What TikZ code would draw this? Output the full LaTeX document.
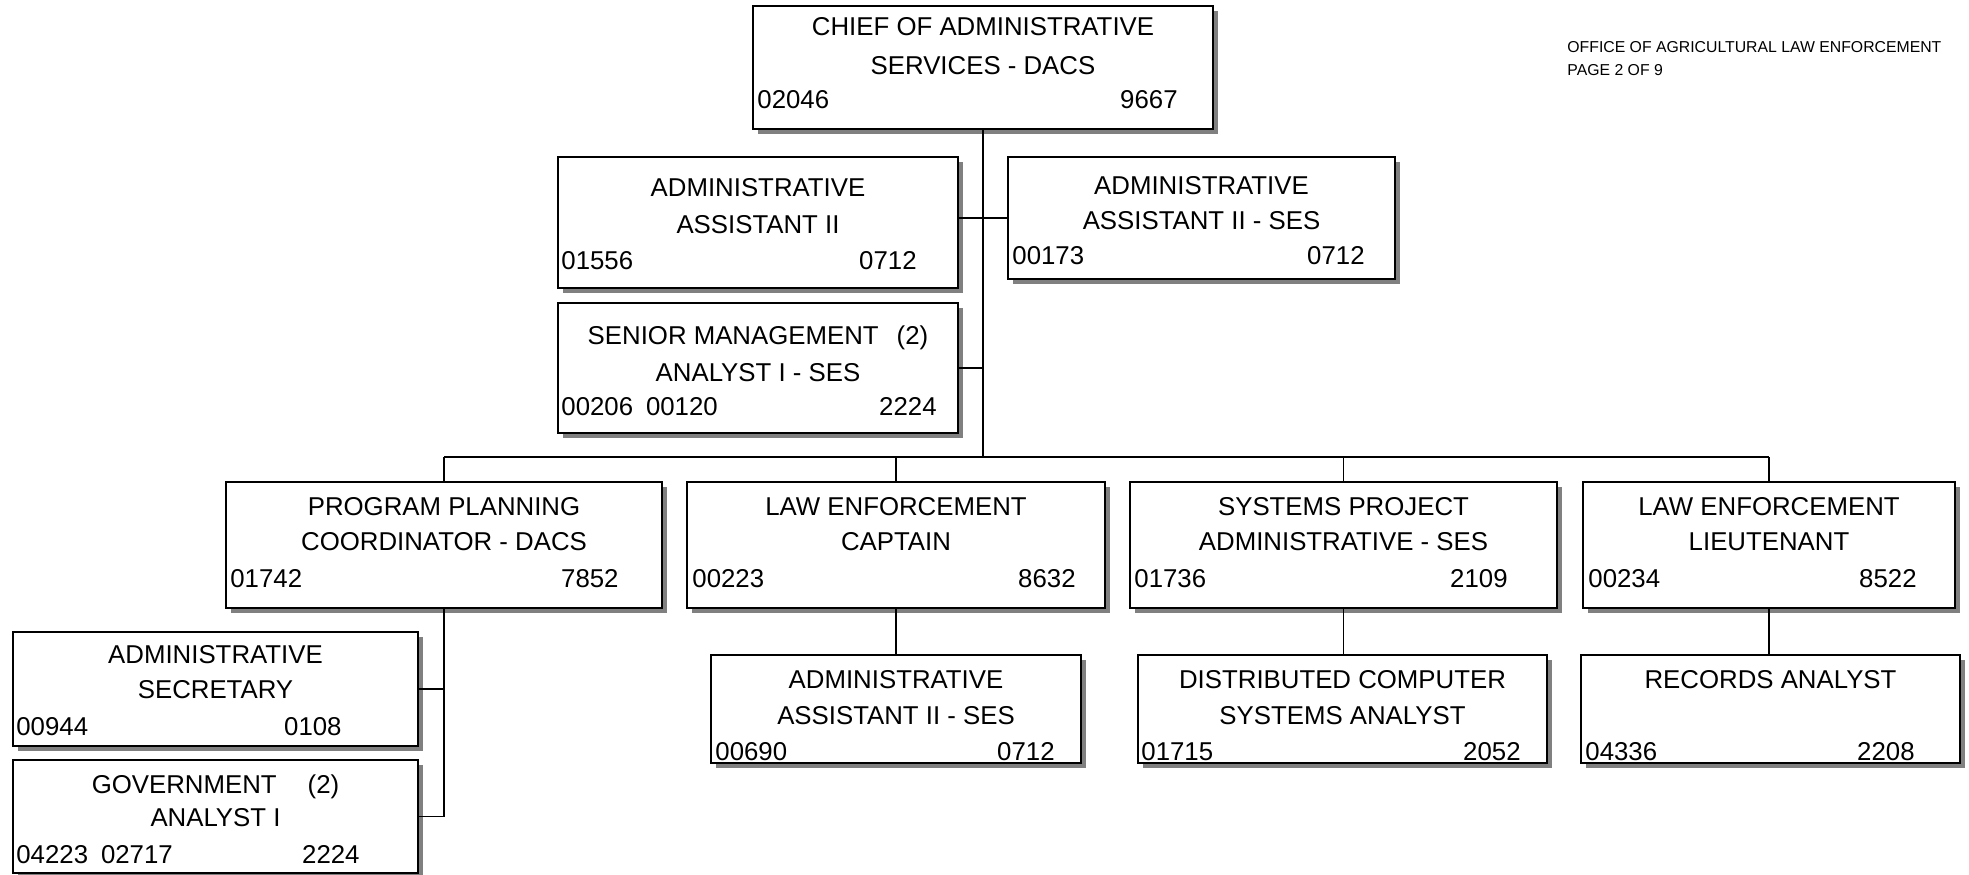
\documentclass[tikz,border=0pt]{standalone}
\usepackage{fontspec}
\setmainfont{Liberation Sans}
\usetikzlibrary{shadows,fit}

\tikzset{
  orgbox/.style={draw=black, line width=1.1pt, fill=white, inner sep=0pt,
    drop shadow={fill=black!50, opacity=1, shadow xshift=2.5pt, shadow yshift=-2.5pt}},
  titletext/.style={inner sep=0pt, anchor=base, font=\fontsize{12.9}{15}\selectfont},
  lnum/.style={inner sep=0pt, anchor=base west, font=\fontsize{12.9}{15}\selectfont},
  rnum/.style={inner sep=0pt, anchor=base east, font=\fontsize{12.9}{15}\selectfont},
  headtext/.style={inner sep=0pt, anchor=base west, font=\fontsize{7.9}{9}\selectfont},
  link/.style={line width=0.9pt, draw=black}
}

% box: name, left, top, right, bottom
\newcommand{\orgbox}[5]{%
  \node[orgbox, fit={(#2,#3) (#4,#5)}] (#1) {};}
% title lines: name, centre x, y1, line 1, y2, line 2
\newcommand{\orgtitle}[6]{%
  \node[titletext] (#1-t1) at ({#2},{#3+9}) {#4};
  \node[titletext] (#1-t2) at ({#2},{#5+9}) {#6};}
% number row: name, left x, right x, y, left text, right text
\newcommand{\orgnums}[6]{%
  \node[lnum] (#1-pos) at ({#2},{#4+9}) {#5};
  \node[rnum] (#1-cls) at ({#3},{#4+9}) {#6};}

\begin{document}
\begin{tikzpicture}[x=0.5pt, y=-0.5pt]
\useasboundingbox (0,0) rectangle (1969,874);

% page heading
\node[headtext] (head1) at (1567,52) {OFFICE OF AGRICULTURAL LAW ENFORCEMENT};
\node[headtext] (head2) at (1567,75) {PAGE 2 OF 9};

% top level
\orgbox{chief}{753}{6}{1213}{129}
\orgtitle{chief}{983}{26}{CHIEF OF ADMINISTRATIVE}{65}{SERVICES - DACS}
\orgnums{chief}{757}{1178}{99}{02046}{9667}

% staff boxes
\orgbox{aa2}{558}{157}{958}{288}
\orgtitle{aa2}{758}{187}{ADMINISTRATIVE}{224}{ASSISTANT II}
\orgnums{aa2}{561}{917}{260}{01556}{0712}

\orgbox{aa2s}{1008}{157}{1395}{279}
\orgtitle{aa2s}{1201.5}{185}{ADMINISTRATIVE}{220}{ASSISTANT II - SES}
\orgnums{aa2s}{1012}{1365}{255}{00173}{0712}

\orgbox{sma}{558}{303}{958}{433}
\orgtitle{sma}{758}{335}{SENIOR MANAGEMENT\hspace{0.7em}(2)}{372}{ANALYST I - SES}
\orgnums{sma}{561}{937}{406}{00206\hspace{0.5em}00120}{2224}

% second level
\orgbox{ppc}{226}{482}{662}{608}
\orgtitle{ppc}{444}{506}{PROGRAM PLANNING}{541}{COORDINATOR - DACS}
\orgnums{ppc}{230}{619}{578}{01742}{7852}

\orgbox{lec}{687}{482}{1105}{608}
\orgtitle{lec}{896}{506}{LAW ENFORCEMENT}{541}{CAPTAIN}
\orgnums{lec}{692}{1076}{578}{00223}{8632}

\orgbox{spa}{1130}{482}{1557}{608}
\orgtitle{spa}{1343.5}{506}{SYSTEMS PROJECT}{541}{ADMINISTRATIVE - SES}
\orgnums{spa}{1134}{1508}{578}{01736}{2109}

\orgbox{lel}{1583}{482}{1955}{608}
\orgtitle{lel}{1769}{506}{LAW ENFORCEMENT}{541}{LIEUTENANT}
\orgnums{lel}{1588}{1917}{578}{00234}{8522}

% third level
\orgbox{aa3}{711}{655}{1081}{763}
\orgtitle{aa3}{896}{679}{ADMINISTRATIVE}{715}{ASSISTANT II - SES}
\orgnums{aa3}{715}{1055}{751}{00690}{0712}

\orgbox{dcsa}{1138}{655}{1547}{763}
\orgtitle{dcsa}{1342.5}{679}{DISTRIBUTED COMPUTER}{715}{SYSTEMS ANALYST}
\orgnums{dcsa}{1141}{1521}{751}{01715}{2052}

\orgbox{ra}{1581}{655}{1960}{763}
\node[titletext] (ra-t1) at (1770.5,688) {RECORDS ANALYST};
\orgnums{ra}{1585}{1915}{751}{04336}{2208}

\orgbox{asec}{13}{632}{418}{746}
\orgtitle{asec}{215.5}{654}{ADMINISTRATIVE}{689}{SECRETARY}
\orgnums{asec}{16}{342}{726}{00944}{0108}

\orgbox{gov}{13}{760}{418}{873}
\orgtitle{gov}{215.5}{784}{GOVERNMENT\hspace{1.2em}(2)}{817}{ANALYST I}
\orgnums{gov}{16}{360}{854}{04223\hspace{0.5em}02717}{2224}

% connectors
\coordinate (busmid) at (983,457);
\draw[link] (chief.south) -- (busmid);
\draw[link] (aa2.east |- aa2s.west) -- (aa2s.west);
\draw[link] (sma.east) -- (sma.east -| busmid);
\draw[link] (ppc.north |- busmid) -- (lel.north |- busmid);
\draw[link] (ppc.north) -- (ppc.north |- busmid);
\draw[link] (lec.north) -- (lec.north |- busmid);
\draw[link] (spa.north) -- (spa.north |- busmid);
\draw[link] (lel.north) -- (lel.north |- busmid);
\draw[link] (lec.south) -- (aa3.north);
\draw[link] (spa.south) -- (spa.south |- dcsa.north);
\draw[link] (lel.south) -- (lel.south |- ra.north);
\draw[link] (ppc.south) -- (ppc.south |- gov.east);
\draw[link] (asec.east) -- (asec.east -| ppc.south);
\draw[link] (gov.east) -- (gov.east -| ppc.south);
\end{tikzpicture}
\end{document}
